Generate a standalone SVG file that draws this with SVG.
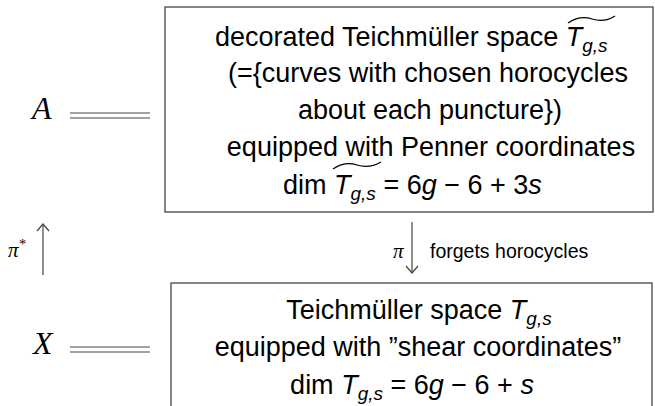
<svg xmlns="http://www.w3.org/2000/svg" width="655" height="406" viewBox="0 0 655 406">
<defs>
<style>
.t{font-family:"Liberation Sans",Arial,sans-serif;font-size:27px;fill:#000}
.m{font-family:"Liberation Sans",Arial,sans-serif;font-style:italic}
.sub{font-size:19px}
.cal{font-family:"Liberation Serif","DejaVu Serif",serif;font-style:italic;font-size:32px;fill:#000}
.lbl{font-family:"Liberation Sans",Arial,sans-serif;font-size:19.5px;fill:#000}
.pi{font-family:"Liberation Serif","DejaVu Serif",serif;font-style:italic;font-size:21px;fill:#000}
.box{fill:#fff;stroke:#444;stroke-width:1.3}
.ln{fill:none;stroke:#444;stroke-width:1.2}
.tl{fill:none;stroke:#000;stroke-width:1.2}
</style>
</defs>
<rect width="655" height="406" fill="#fff"/>

<g id="node-A">
<text class="cal" x="32" y="119">A</text>
</g>
<g id="node-X">
<text class="cal" x="33" y="354">X</text>
</g>

<g id="node-decorated">
<rect class="box" x="165" y="7" width="488" height="205"/>
<text class="t" x="215" y="46">decorated Teichmüller space <tspan class="m">T</tspan><tspan class="m sub" dy="6">g,s</tspan></text>
<path class="tl" d="M568,23 Q580,15 592,19 T615,16"/>
<text class="t" x="428" y="82" text-anchor="middle">(={curves with chosen horocycles</text>
<text class="t" x="430" y="119" text-anchor="middle">about each puncture})</text>
<text class="t" x="431" y="156" text-anchor="middle">equipped with Penner coordinates</text>
<text class="t" x="283" y="194">dim <tspan class="m">T</tspan><tspan class="m sub" dy="6">g,s</tspan><tspan dy="-6"> = 6</tspan><tspan class="m">g</tspan> − 6 + 3<tspan class="m">s</tspan></text>
<path class="tl" d="M333,169 Q345,161 357,165 T381,162"/>
</g>

<g id="node-teich">
<rect class="box" x="171" y="283" width="481" height="140"/>
<text class="t" x="419" y="319" text-anchor="middle">Teichmüller space <tspan class="m">T</tspan><tspan class="m sub" dy="6">g,s</tspan></text>
<text class="t" x="418" y="356" text-anchor="middle">equipped with ”shear coordinates”</text>
<text class="t" x="412" y="394" text-anchor="middle">dim <tspan class="m">T</tspan><tspan class="m sub" dy="6">g,s</tspan><tspan dy="-6"> = 6</tspan><tspan class="m">g</tspan> − 6 + <tspan class="m">s</tspan></text>
</g>

<g id="connectors">
<line class="ln" x1="70" y1="113" x2="150" y2="113"/>
<line class="ln" x1="70" y1="118" x2="150" y2="118"/>
<line class="ln" x1="70" y1="347" x2="150" y2="347"/>
<line class="ln" x1="70" y1="352" x2="150" y2="352"/>
<line class="ln" x1="43" y1="275" x2="43" y2="224"/>
<path class="ln" d="M37,231 L43,224 L49,231"/>
<line class="ln" x1="412" y1="222" x2="412" y2="273"/>
<path class="ln" d="M406,266 L412,273 L418,266"/>
<text class="pi" x="8" y="257">π<tspan font-size="14" dy="-8">*</tspan></text>
<text class="pi" x="393" y="258">π</text>
<text class="lbl" x="430" y="258">forgets horocycles</text>
</g>
</svg>
